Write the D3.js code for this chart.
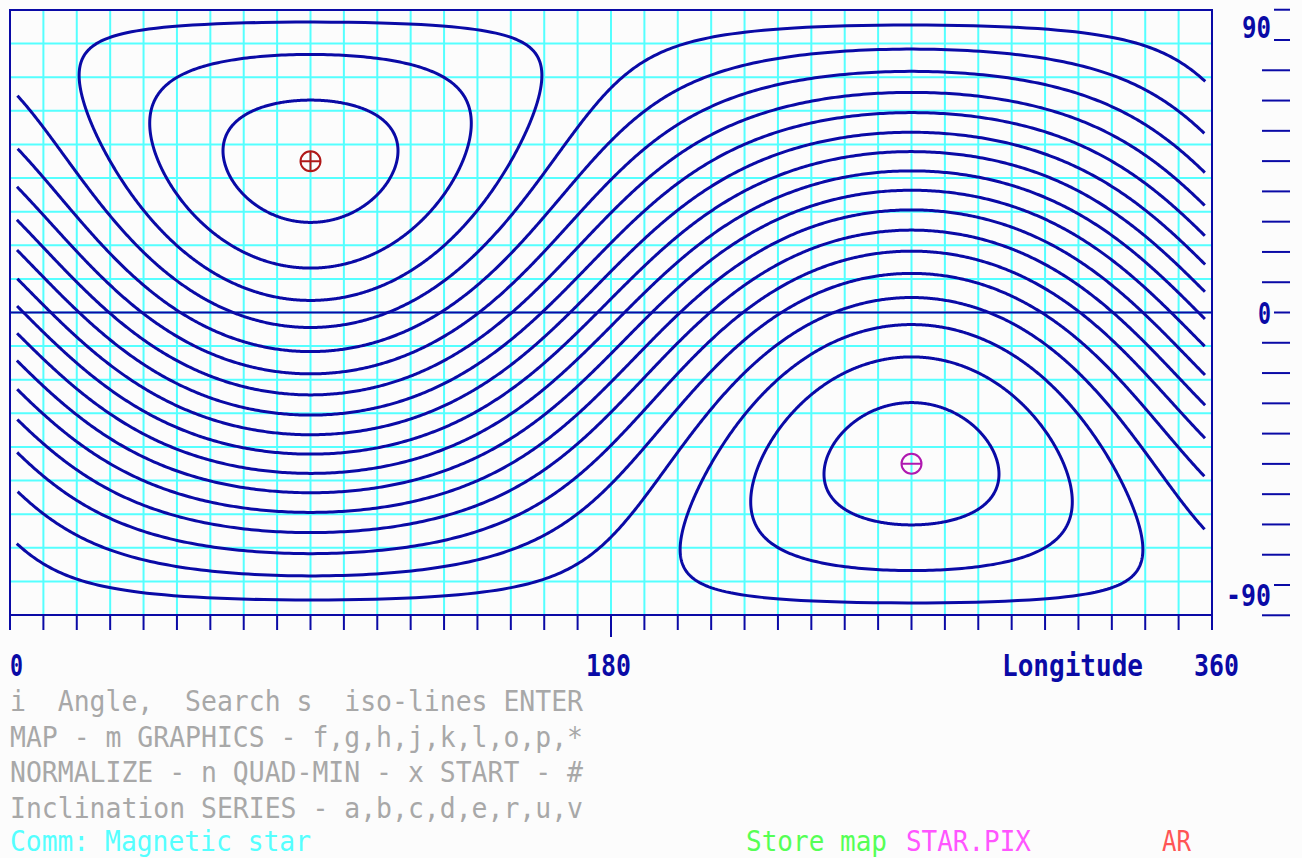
<!DOCTYPE html>
<html lang="en">
<head>
    <title>Magnetic star - iso-lines map</title>
    <style>
        body { margin: 0; background: #fcfcfc; }
        svg text { font-family: "DejaVu Sans Mono", monospace; white-space: pre; }
    </style>
    <script src="https://d3js.org/d3.v7.min.js"></script>
</head>
<body>
<script>

    // DATA //

    // longitude grid / bottom ticks (degrees)
    const lonTicks = [0, 10, 20, 30, 40, 50, 60, 70, 80, 90, 100, 110, 120, 130, 140, 150, 160, 170, 180,
                      190, 200, 210, 220, 230, 240, 250, 260, 270, 280, 290, 300, 310, 320, 330, 340, 350, 360];
    // latitude grid (degrees)
    const latGrid  = [-90, -80, -70, -60, -50, -40, -30, -20, -10, 0, 10, 20, 30, 40, 50, 60, 70, 80, 90];
    const lonLabels = [0, 180, 360];

    // right hand scale ticks + labels
    const rightTicks  = [100, 90, 80, 70, 60, 50, 40, 30, 20, 10, 0, -10, -20, -30, -40, -50, -60, -70, -80, -90, -100];
    const rightLabels = [90, 0, -90];

    // magnetic poles: positive and negative
    const poleLon  = [90, 270];
    const poleLat  = [45, -45];
    const poleSign = ["+", "-"];

    // iso-line levels (cosine of the angle to the positive pole)
    const isoLevels = [0.95, 0.85, 0.75, 0.65, 0.55, 0.45, 0.35, 0.25, 0.15, 0.05,
                       -0.05, -0.15, -0.25, -0.35, -0.45, -0.55, -0.65, -0.75, -0.85, -0.95];

    // menu text under the map
    const menuLines = [
        "i  Angle,  Search s  iso-lines ENTER",
        "MAP - m GRAPHICS - f,g,h,j,k,l,o,p,*",
        "NORMALIZE - n QUAD-MIN - x START - #",
        "Inclination SERIES - a,b,c,d,e,r,u,v"
    ];
    const statusItems = [
        {text: "Comm: Magnetic star", col: 0,  color: "#55ffff"},
        {text: "Store map",           col: 46, color: "#55ff55"},
        {text: "STAR.PIX",            col: 56, color: "#ff55ff"},
        {text: "AR",                  col: 72, color: "#ff5555"}
    ];

    // LAYOUT //
    const width  = 1302;
    const height = 858;
    const mapLeft = 10, mapRight = 1212, mapTop = 10, mapBottom = 615;
    const cell = 16;          // character cell width
    const blue = "#0a0aa6";
    const cyan = "#55ffff";

    const x = d3.scaleLinear().domain([0, 360]).range([mapLeft, mapRight]);
    const y = d3.scaleLinear().domain([-90, 90]).range([mapBottom, mapTop]);
    const yRight = d3.scaleLinear().domain([90, -90]).range([40, 585]);

    const svg = d3.select("body")
                  .append("svg")
                  .attr("width", width)
                  .attr("height", height);

    svg.append("rect")
        .attr("width", width)
        .attr("height", height)
        .attr("fill", "#fcfcfc");

    // grid
    svg.append("g")
        .selectAll("line")
        .data(lonTicks.slice(1, -1))
        .join("line")
        .attr("x1", d => x(d)).attr("x2", d => x(d))
        .attr("y1", mapTop).attr("y2", mapBottom)
        .attr("stroke", cyan).attr("stroke-width", 2);

    svg.append("g")
        .selectAll("line")
        .data(latGrid.slice(1, -1))
        .join("line")
        .attr("x1", mapLeft).attr("x2", mapRight)
        .attr("y1", d => y(d)).attr("y2", d => y(d))
        .attr("stroke", cyan).attr("stroke-width", 2);

    // equator
    svg.append("line")
        .attr("x1", mapLeft).attr("x2", mapRight)
        .attr("y1", y(0)).attr("y2", y(0))
        .attr("stroke", blue).attr("stroke-width", 2);

    // iso-lines: small circles round the positive pole, cut at longitude 0/360
    const gap = 2;
    function isoLine(level) {
        const ring = d3.geoCircle()
                       .center([poleLon[0], poleLat[0]])
                       .radius(Math.acos(level) * 180 / Math.PI)
                       .precision(0.5)().coordinates[0];
        const pts = ring.map(p => [(p[0] + 360) % 360, p[1]]);
        const uniq = pts.slice(0, -1);
        const n = uniq.length;
        let cut = -1;
        for (let i = 0; i < n; i++) {
            const prev = uniq[(i - 1 + n) % n];
            if (Math.abs(uniq[i][0] - prev[0]) > 180) { cut = i; break; }
        }
        if (cut < 0) return pts;            // closed loop
        return uniq.slice(cut).concat(uniq.slice(0, cut))
                   .filter(p => p[0] > gap && p[0] < 360 - gap);
    }

    const line = d3.line()
                   .x(d => x(d[0]))
                   .y(d => y(d[1]));

    svg.append("g")
        .selectAll("path")
        .data(isoLevels)
        .join("path")
        .attr("d", d => line(isoLine(d)))
        .attr("fill", "none")
        .attr("stroke", blue)
        .attr("stroke-width", 3)
        .attr("stroke-linejoin", "round");

    // frame
    svg.append("rect")
        .attr("x", mapLeft).attr("y", mapTop)
        .attr("width", mapRight - mapLeft).attr("height", mapBottom - mapTop)
        .attr("fill", "none")
        .attr("stroke", blue).attr("stroke-width", 2);

    // poles
    const poles = poleLon.map((lon, i) => ({lon: lon, lat: poleLat[i], sign: poleSign[i]}));
    const pg = svg.append("g")
        .selectAll("g")
        .data(poles)
        .join("g")
        .attr("transform", d => `translate(${x(d.lon)},${y(d.lat)})`)
        .attr("stroke", d => d.sign === "+" ? "#b01818" : "#b018b0")
        .attr("stroke-width", 2)
        .attr("fill", "none");
    pg.append("circle").attr("r", 10);
    pg.append("line").attr("x1", -10).attr("x2", 10);
    pg.filter(d => d.sign === "+")
        .append("line").attr("y1", -10).attr("y2", 10);

    // bottom ticks
    svg.append("g")
        .selectAll("line")
        .data(lonTicks)
        .join("line")
        .attr("x1", d => x(d)).attr("x2", d => x(d))
        .attr("y1", mapBottom)
        .attr("y2", d => d === 180 ? mapBottom + 22 : mapBottom + 15)
        .attr("stroke", blue).attr("stroke-width", 2);

    // text on the character grid
    function dosText(str, col, base, color, weight, size) {
        return svg.append("text")
            .attr("x", mapLeft + col * cell)
            .attr("y", base)
            .attr("textLength", str.length * cell - 3)
            .attr("lengthAdjust", "spacingAndGlyphs")
            .attr("font-size", size || 31)
            .attr("font-weight", weight || "normal")
            .attr("fill", color)
            .text(str);
    }

    lonLabels.forEach(d => {
        const s = String(d);
        const col = Math.max(0, Math.round((x(d) - mapLeft) / cell - s.length / 2));
        dosText(s, col, 676, blue, "bold");
    });
    dosText("Longitude", 62, 676, blue, "bold");

    // right scale
    svg.append("g")
        .selectAll("line")
        .data(rightTicks)
        .join("line")
        .attr("x1", d => (rightLabels.includes(d) || d === 100) ? 1274 : 1262)
        .attr("x2", 1290)
        .attr("y1", d => yRight(d)).attr("y2", d => yRight(d))
        .attr("stroke", blue).attr("stroke-width", 2);

    rightLabels.forEach(d => {
        const s = String(d);
        const base = d > 0 ? yRight(d) - 2 : d < 0 ? yRight(d) + 21 : yRight(d) + 11;
        dosText(s, 79 - s.length, base, blue, "bold");
    });

    // menu
    menuLines.forEach((s, i) => dosText(s, 0, 711 + i * 35.5, "#a8a8a8", "normal", 29));
    statusItems.forEach(d => dosText(d.text, d.col, 851, d.color, "normal", 29));

</script>
</body>
</html>
